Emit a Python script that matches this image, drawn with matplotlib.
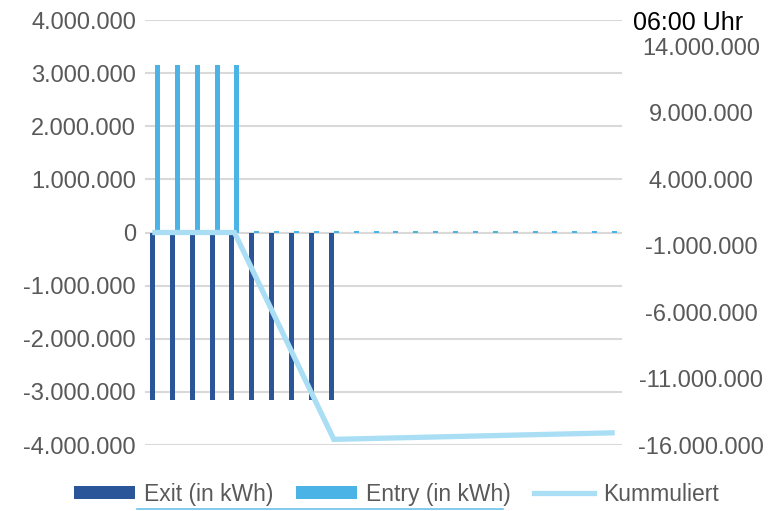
"""
Hourly exit / entry bars with cumulative line (06:00 Uhr)
"""

import matplotlib
matplotlib.use("Agg")
import matplotlib.pyplot as plt
from matplotlib.lines import Line2D
import numpy as np

plt.rcParams['font.family'] = ['Liberation Sans', 'DejaVu Sans']

# 24 hourly slots, x axis carries no labels
hours = list(range(24))
exit_kwh = [-3150000, -3150000, -3150000, -3150000, -3150000,
            -3150000, -3150000, -3150000, -3150000, -3150000,
            0, 0, 0, 0, 0, 0, 0, 0, 0, 0, 0, 0, 0, 0]
entry_kwh = [3150000, 3150000, 3150000, 3150000, 3150000,
             35000, 35000, 35000, 35000, 35000, 35000, 35000,
             35000, 35000, 35000, 35000, 35000, 35000, 35000,
             35000, 35000, 35000, 35000, 35000]
left_ticks = [-4000000, -3000000, -2000000, -1000000, 0,
              1000000, 2000000, 3000000, 4000000]
right_ticks = [-16000000, -11000000, -6000000, -1000000,
               4000000, 9000000, 14000000]

cumulative = np.cumsum(np.array(exit_kwh) + np.array(entry_kwh))

grey = '#595959'


def fmt(v):
    s = f"{abs(int(v)):,}".replace(",", ".")
    return "-" + s if v < 0 else s


fig = plt.figure(figsize=(7.76, 5.11), dpi=100)
ax = fig.add_axes([145/776, 1 - 445/511, 477/776, 425/511])
ax2 = ax.twinx()

x = np.array(hours)
w = 0.25
ax.bar(x - w/2, exit_kwh, width=w, color='#2A5699', label='Exit (in kWh)', zorder=2)
ax.bar(x + w/2, entry_kwh, width=w, color='#4BB3E6', label='Entry (in kWh)', zorder=2)
ax2.plot(x, cumulative, color='#A9DEF5', linewidth=3.8, label='Kummuliert',
         solid_joinstyle='miter')

ax.set_xlim(-0.5, 23.5)
ax.set_ylim(-4000000, 4000000)
ax2.set_ylim(-16000000, 16000000)

ax.set_yticks(left_ticks)
ax.set_yticklabels([fmt(v) for v in left_ticks])
ax2.set_yticks(right_ticks)
ax2.set_yticklabels([fmt(v) for v in right_ticks])

ax.grid(axis='y', color='#D9D9D9', linewidth=1.5, zorder=0)
ax.set_axisbelow(True)
ax.set_xticks([])
ax.tick_params(axis='y', length=0, pad=6.5, labelsize=17, labelcolor=grey)
ax2.tick_params(axis='y', length=0, pad=57, labelsize=17, labelcolor=grey)
for lbl in ax2.get_yticklabels():
    lbl.set_horizontalalignment('center')

for a in (ax, ax2):
    for sp in a.spines.values():
        sp.set_visible(False)

fig.text(633/776, 1 - 30/511, '06:00 Uhr', fontsize=18, color='black',
         ha='left', va='baseline')

handles = ax.get_legend_handles_labels()[0] + ax2.get_legend_handles_labels()[0]
labels = ax.get_legend_handles_labels()[1] + ax2.get_legend_handles_labels()[1]
fig.legend(handles, labels, loc='center', bbox_to_anchor=(0.511, 1 - 494/511),
           ncol=3, frameon=False, fontsize=16.5, labelcolor=grey,
           handlelength=2.65, handleheight=0.5, handletextpad=0.4,
           columnspacing=1.0, borderpad=0)

# thin blue rule under the legend
fig.add_artist(Line2D([137/776, 503/776], [1 - 508.5/511, 1 - 508.5/511],
                      color='#6EC1EA', linewidth=1.2, transform=fig.transFigure))

fig.savefig('out.png', dpi=100)
